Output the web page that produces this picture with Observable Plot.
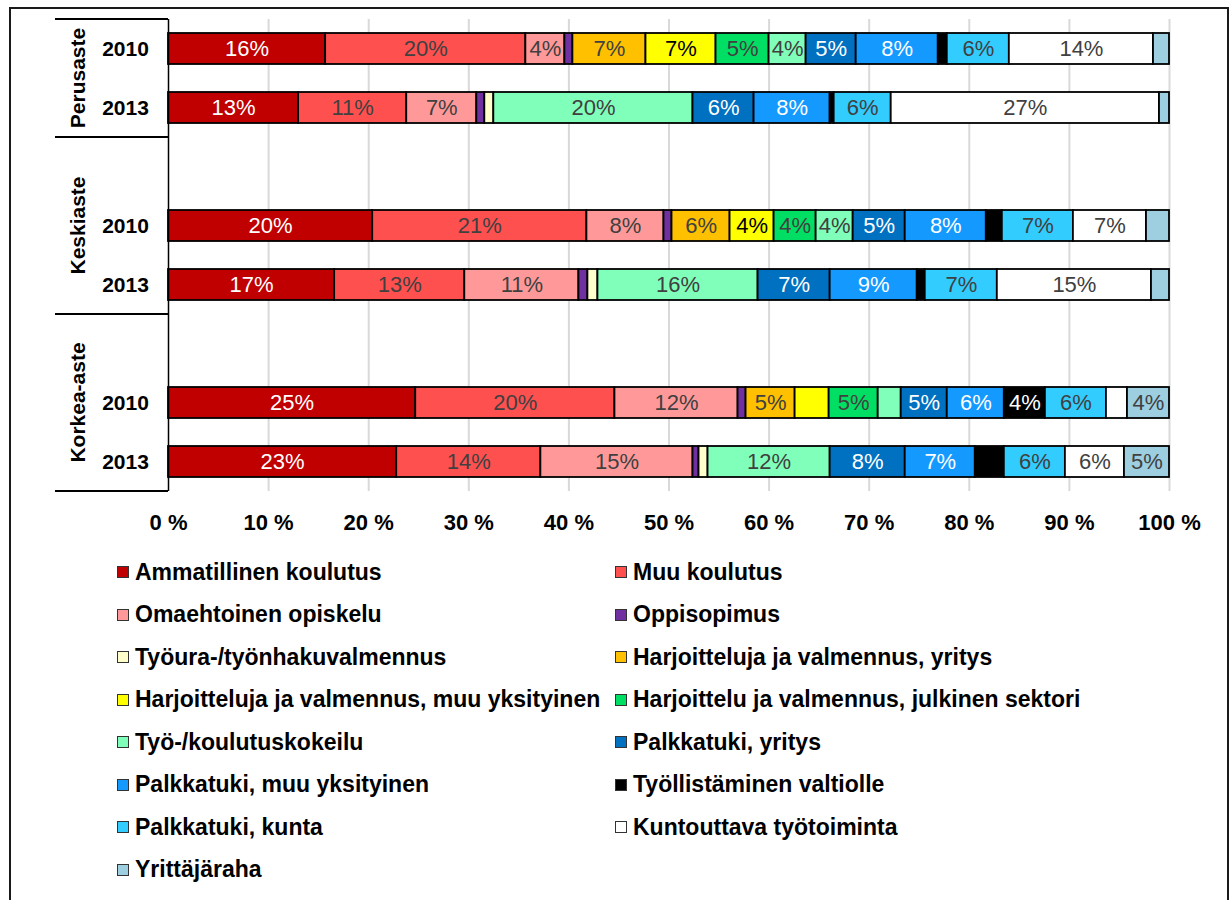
<!DOCTYPE html>
<html>
<head>
<meta charset="utf-8">
<script src="https://cdn.jsdelivr.net/npm/d3@7"></script>
<script src="https://cdn.jsdelivr.net/npm/@observablehq/plot@0.6"></script>
<style>
  html, body { margin: 0; padding: 0; background: #fff; }
  body { width: 1232px; height: 900px; position: relative; overflow: hidden; font-family: Arial, "Liberation Sans", sans-serif; }
  #frame { position: absolute; left: 9px; top: 7px; width: 1220px; height: 910px; border: 2px solid #1a1a1a; box-sizing: border-box; }
  #chart { position: absolute; left: 0; top: 0; }
  #legend { position: absolute; left: 117px; top: 551px; display: grid; grid-template-columns: 498px auto; grid-auto-rows: 42.5px; align-items: center; }
  .item { display: flex; align-items: center; font-weight: bold; font-size: 23px; color: #000; white-space: nowrap; }
  .sw { width: 10px; height: 10px; border: 1px solid #333; margin-right: 6px; flex: none; }
</style>
</head>
<body>
<div id="frame"></div>
<div id="chart"></div>
<div id="legend"></div>
<script>
(function () {
// ---- data ----
const groups = ["Perusaste", "Keskiaste", "Korkea-aste"];
const years = ["2010", "2013"];
const series = [
  "Ammatillinen koulutus",
  "Muu koulutus",
  "Omaehtoinen opiskelu",
  "Oppisopimus",
  "Työura-/työnhakuvalmennus",
  "Harjoitteluja ja valmennus, yritys",
  "Harjoitteluja ja valmennus, muu yksityinen",
  "Harjoittelu ja valmennus, julkinen sektori",
  "Työ-/koulutuskokeilu",
  "Palkkatuki, yritys",
  "Palkkatuki, muu yksityinen",
  "Työllistäminen valtiolle",
  "Palkkatuki, kunta",
  "Kuntouttava työtoiminta",
  "Yrittäjäraha"
];
const colors = ["#C00000", "#FF5050", "#FF9999", "#7030A0", "#FFFFCC", "#FFC000", "#FFFF00", "#00DF63",
                "#80FFBA", "#0070C0", "#1499FF", "#000000", "#33CCFF", "#FFFFFF", "#9DCFE1"];
const labelColors = ["#FFFFFF", "#404040", "#404040", "#404040", "#404040", "#404040", "#000000", "#404040",
                     "#404040", "#FFFFFF", "#FFFFFF", "#FFFFFF", "#404040", "#404040", "#404040"];

// percentages, in the order of `series`
const perusaste2010  = [15.7, 20.0,  3.9, 0.8, 0.0, 7.3, 7.0, 5.3,  3.7, 5.0, 8.2, 0.9, 6.2, 14.4, 1.6];
const perusaste2013  = [13.0, 10.8,  7.0, 0.8, 0.9, 0.0, 0.0, 0.0, 19.9, 6.1, 7.6, 0.4, 5.7, 26.8, 1.0];
const keskiaste2010  = [20.4, 21.4,  7.7, 0.8, 0.0, 5.8, 4.4, 4.2,  3.7, 5.2, 8.1, 1.6, 7.1,  7.3, 2.3];
const keskiaste2013  = [16.6, 13.0, 11.4, 0.9, 1.0, 0.0, 0.0, 0.0, 16.0, 7.2, 8.7, 0.8, 7.2, 15.4, 1.8];
const korkeaaste2010 = [24.7, 19.9, 12.3, 0.8, 0.0, 4.9, 3.4, 4.9,  2.3, 4.6, 5.7, 4.1, 6.1,  2.1, 4.2];
const korkeaaste2013 = [22.8, 14.4, 15.2, 0.6, 0.9, 0.0, 0.0, 0.0, 12.2, 7.5, 7.0, 2.9, 6.1,  5.9, 4.5];

const xTicks = [0, 10, 20, 30, 40, 50, 60, 70, 80, 90, 100];
const labelThreshold = 3.5;

// ---- build table ----
const rows = [
  {group: "Perusaste", year: "2010", values: perusaste2010},
  {group: "Perusaste", year: "2013", values: perusaste2013},
  {group: "Keskiaste", year: "2010", values: keskiaste2010},
  {group: "Keskiaste", year: "2013", values: keskiaste2013},
  {group: "Korkea-aste", year: "2010", values: korkeaaste2010},
  {group: "Korkea-aste", year: "2013", values: korkeaaste2013}
];
const slots = [];
groups.forEach((g, i) => {
  if (i > 0) slots.push(g + "|");
  years.forEach(y => slots.push(g + "|" + y));
});
const data = rows.flatMap(r => series.map((s, j) => ({
  key: r.group + "|" + r.year, series: s, idx: j, value: r.values[j]
}))).filter(d => d.value > 0);

const fmt = d => Math.round(d.value) + "%";
const textMark = color => Plot.text(data, Plot.stackX({
  x: "value", y: "key",
  text: d => (d.value >= labelThreshold && labelColors[d.idx] === color) ? fmt(d) : "",
  fill: color, fontSize: 22, fontFamily: "Arial, 'Liberation Sans', sans-serif"
}));

const W = 1232, H = 545;
const plot = Plot.plot({
  width: W, height: H,
  marginLeft: 168, marginRight: 63, marginTop: 19, marginBottom: 54,
  style: {fontFamily: "Arial, 'Liberation Sans', sans-serif", color: "#000", background: "transparent", overflow: "visible"},
  x: {domain: [0, 100], ticks: xTicks, label: null},
  y: {domain: slots, paddingInner: 0.47, paddingOuter: 0.235, label: null},
  color: {domain: series, range: colors},
  marks: [
    Plot.ruleX(xTicks.slice(1), {stroke: "#d9d9d9", strokeWidth: 2}),
    Plot.barX(data, Plot.stackX({x: "value", y: "key", fill: "series", stroke: "#000", strokeWidth: 1.8})),
    textMark("#FFFFFF"), textMark("#000000"), textMark("#404040"),
    Plot.ruleX([0], {stroke: "#000", strokeWidth: 1.5}),
    Plot.axisX({ticks: xTicks, tickSize: 0, tickPadding: 23, tickFormat: d => d + " %", label: null,
                fontSize: 22, fontWeight: "bold", fill: "#000"}),
    Plot.axisY({tickSize: 0, tickPadding: 43, textAnchor: "middle", label: null,
                tickFormat: k => k.split("|")[1], fontSize: 21, fontWeight: "bold", fill: "#000"})
  ]
});
document.getElementById("chart").appendChild(plot);

// ---- category table on the left (group separators and labels), from the y scale ----
const ys = plot.scale("y");
const gap = (ys.step - ys.bandwidth) / 2;
const yTop = ys.range[0], yBottom = ys.range[1];
const bounds = [yTop];
groups.forEach((g, i) => { if (i > 0) bounds.push(ys.apply(g + "|") - gap); });
bounds.push(yBottom);
const svg = d3.select(plot);
const gTab = svg.append("g");
bounds.forEach(b => gTab.append("line")
  .attr("x1", 55).attr("x2", 168).attr("y1", b).attr("y2", b)
  .attr("stroke", "#000").attr("stroke-width", 2));
groups.forEach((g, i) => {
  const c = (bounds[i] + bounds[i + 1]) / 2;
  gTab.append("text")
    .attr("transform", `translate(78,${c}) rotate(-90)`)
    .attr("text-anchor", "middle").attr("dy", "0.35em")
    .attr("font-size", 21).attr("font-weight", "bold").attr("fill", "#000")
    .text(g);
});

// ---- legend ----
const leg = document.getElementById("legend");
series.forEach((s, i) => {
  const it = document.createElement("div");
  it.className = "item";
  const sw = document.createElement("span");
  sw.className = "sw";
  sw.style.background = colors[i];
  it.appendChild(sw);
  it.appendChild(document.createTextNode(s));
  leg.appendChild(it);
});
})();
</script>
</body>
</html>
